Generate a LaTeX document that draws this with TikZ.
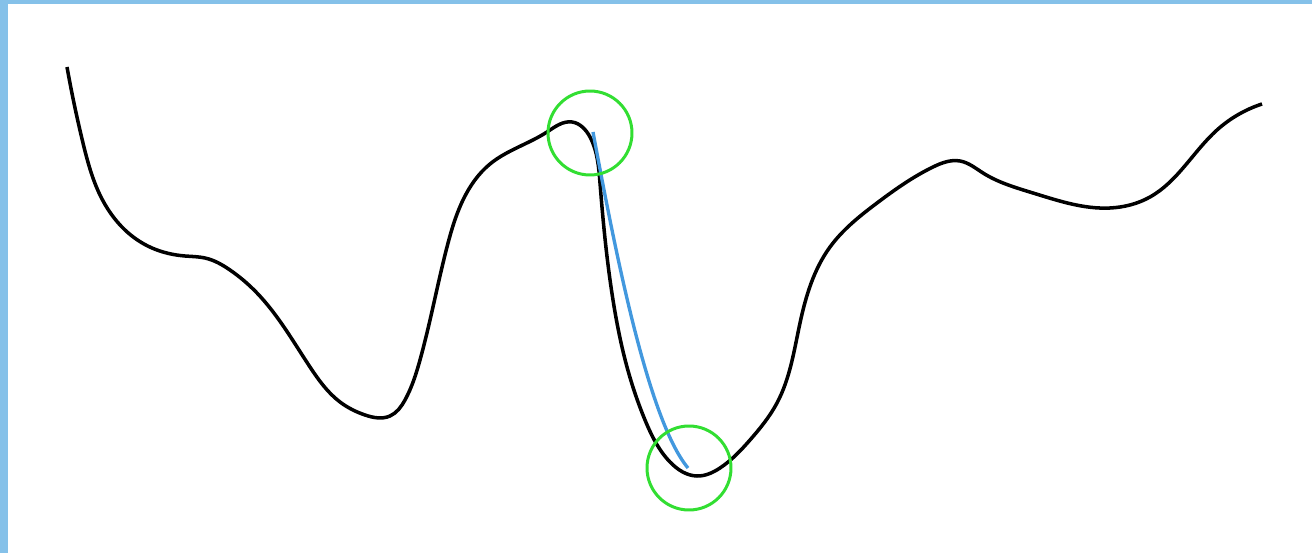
\documentclass[tikz,border=0pt]{standalone}
\usepackage{tikz}
\usetikzlibrary{positioning,hobby}
\definecolor{frameblue}{RGB}{133,193,233}
\definecolor{pathblue}{RGB}{66,152,222}
\definecolor{markgreen}{RGB}{50,222,50}
\tikzset{
  curve/.style={black,line width=2pt,line join=round,use Hobby shortcut},
  descent/.style={pathblue,line width=1.9pt},
  marker/.style={circle,draw=markgreen,line width=1.7pt,minimum size=1.68cm,inner sep=0pt}
}
\begin{document}
\begin{tikzpicture}[x=0.02cm,y=-0.02cm]
\useasboundingbox (0,0) rectangle (1312,553);
\fill[white] (0,0) rectangle (1312,553);
% frame
\fill[frameblue] (0,0) rectangle (8,553);
\fill[frameblue] (0,0) rectangle (1312,4);
% landscape
\draw[curve] (67,67) .. (83,143) .. (100,195) .. (125,230) .. (152,248)
  .. (185,256) .. (205,258) .. (230,270) .. (257,293) .. (310,367)
  .. (340,402) .. (365,415) .. (390,416) .. (405,400) .. (420,360)
  .. (447,247) .. (463,200) .. (490,164) .. (547,132) .. (572,122)
  .. (590,137) .. (600,183) .. (613,300) .. (627,367) .. (645,420)
  .. (670,462) .. (697,476) .. (720,468) .. (750,440) .. (777,403)
  .. (800,323) .. (830,247) .. (877,203) .. (933,167) .. (960,161)
  .. (983,173) .. (1033,193) .. (1110,208) .. (1150,197) .. (1217,130)
  .. (1262,104);
% descent path
\draw[descent] (593,132) .. controls (615,250) and (648,420) .. (688,468);
% start and end markers
\node[marker] (start) at (590,133) {};
\node[marker] (finish) at (689,468) {};
\end{tikzpicture}
\end{document}
